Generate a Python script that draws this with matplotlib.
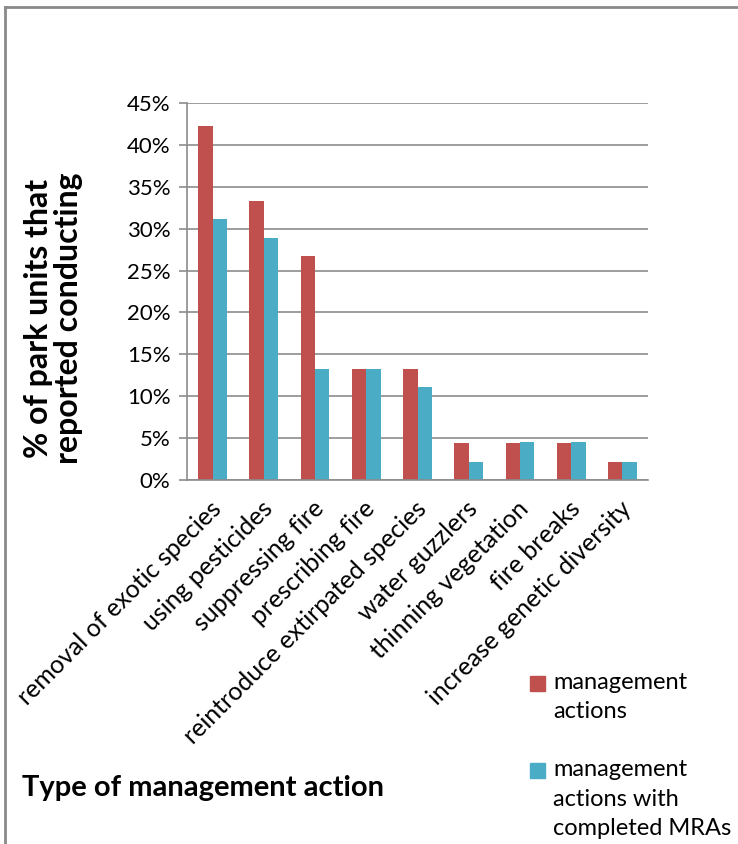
import matplotlib
matplotlib.use("Agg")
import matplotlib.pyplot as plt
import numpy as np
from matplotlib.lines import Line2D
from matplotlib.patches import Rectangle
from matplotlib.ticker import PercentFormatter
import matplotlib.transforms as mtransforms

# data
actions = [
    "removal of exotic species",
    "using pesticides",
    "suppressing fire",
    "prescribing fire",
    "reintroduce extirpated species",
    "water guzzlers",
    "thinning vegetation",
    "fire breaks",
    "increase genetic diversity",
]
all_actions = [42.2, 33.3, 26.7, 13.3, 13.3, 4.4, 4.4, 4.4, 2.2]
with_mras = [31.1, 28.9, 13.3, 13.3, 11.1, 2.2, 4.5, 4.5, 2.2]
series_names = ["management\nactions", "management\nactions with\ncompleted MRAs"]

RED = "#C0504D"
BLUE = "#4BACC6"
GRID = "#8C8C8C"

plt.rcParams["font.family"] = ["Lato", "DejaVu Sans"]

fig = plt.figure(figsize=(7.38, 8.44), dpi=100)
ax = fig.add_axes([187 / 738, 1 - 480 / 844, (648 - 187) / 738, (480 - 103) / 844])

x = np.arange(len(actions))
w = 0.28
ax.bar(x - w / 2, all_actions, w, color=RED)
ax.bar(x + w / 2, with_mras, w, color=BLUE)

ax.set_xlim(-0.5, len(actions) - 0.5)
ax.set_ylim(0, 45)
ax.set_yticks(np.arange(0, 46, 5))
ax.yaxis.set_major_formatter(PercentFormatter(decimals=0))
ax.grid(axis="y", color=GRID, linewidth=1.2)
ax.set_axisbelow(True)

for side in ["top", "right"]:
    ax.spines[side].set_visible(False)
for side in ["left", "bottom"]:
    ax.spines[side].set_color(GRID)
    ax.spines[side].set_linewidth(1.2)

ax.tick_params(axis="y", length=6, color=GRID, width=1.2, labelsize=16, pad=6)
ax.tick_params(axis="x", length=0, labelsize=18, pad=12)
ax.set_xticks(x)
ax.set_xticklabels(actions, rotation=45, ha="right", va="top", rotation_mode="anchor")
shift = mtransforms.ScaledTranslation(-0.03, 0, fig.dpi_scale_trans)
for lbl in ax.get_xticklabels():
    lbl.set_transform(lbl.get_transform() + shift)

fig.text(0.073, 0.623, "% of park units that\nreported conducting", rotation=90,
         ha="center", va="center", fontsize=23, fontweight="bold", linespacing=1.05)
fig.text(0.275, 0.066, "Type of management action", ha="center", va="center",
         fontsize=21, fontweight="bold")

# legend: square aligned with the first line of each entry
legend_tops = [1 - 676 / 844, 1 - 763 / 844]
for top, name, color in zip(legend_tops, series_names, [RED, BLUE]):
    fig.add_artist(Rectangle((530 / 738, top - 15 / 844), 15 / 738, 15 / 844,
                             color=color, transform=fig.transFigure))
    fig.text(553 / 738, top + 4 / 844, name, ha="left", va="top",
             fontsize=17, linespacing=1.5)

# outer chart frame (cut at right/bottom edge)
fig.add_artist(Line2D([5 / 738, 5 / 738], [0, 1 - 7 / 844], color="#8A8A8A",
                      linewidth=2, transform=fig.transFigure))
fig.add_artist(Line2D([5 / 738, 1], [1 - 7 / 844, 1 - 7 / 844], color="#8A8A8A",
                      linewidth=2, transform=fig.transFigure))

fig.savefig("out.png", dpi=100)
